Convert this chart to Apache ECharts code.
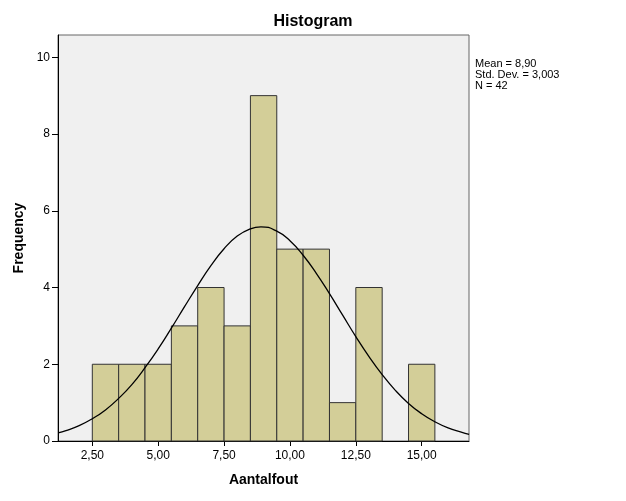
<!DOCTYPE html>
<html><head><meta charset="utf-8">
<script src="https://cdn.jsdelivr.net/npm/echarts@6/dist/echarts.min.js"></script>
<style>html,body{margin:0;padding:0;background:#fff}#c{width:626px;height:501px}</style>
</head><body><div id="c"></div>
<script>
// Histogram bins (start values, width 1) and counts
const binStarts = [2.5, 3.5, 4.5, 5.5, 6.5, 7.5, 8.5, 9.5, 10.5, 11.5, 12.5, 13.5, 14.5];
const counts    = [2, 2, 2, 3, 4, 3, 9, 5, 5, 1, 4, 0, 2];
const binWidth = 1;
// Normal curve
const curveX = [1.2, 1.5, 2.0, 2.5, 3.0, 3.5, 4.0, 4.5, 5.0, 5.5, 6.0, 6.5, 7.0, 7.5, 8.0, 8.5, 8.9, 9.5, 10.0, 10.5, 11.0, 11.5, 12.0, 12.5, 13.0, 13.5, 14.0, 14.5, 15.0, 15.5, 16.0, 16.5, 16.8];
const curveY = [0.21, 0.27, 0.40, 0.58, 0.81, 1.11, 1.47, 1.91, 2.40, 2.94, 3.50, 4.05, 4.57, 5.01, 5.34, 5.53, 5.58, 5.47, 5.22, 4.84, 4.37, 3.84, 3.28, 2.72, 2.20, 1.73, 1.32, 0.98, 0.71, 0.50, 0.34, 0.23, 0.17];
const xTicks = [2.5, 5, 7.5, 10, 12.5, 15];
const yTicks = [0, 2, 4, 6, 8, 10];
const statsLines = ['Mean = 8,90', 'Std. Dev. = 3,003', 'N = 42'];

const chart = echarts.init(document.getElementById('c'), null, {renderer: 'canvas'});
const font = 'Liberation Sans, Arial, sans-serif';
chart.setOption({
  animation: false,
  title: [
    {text: 'Histogram', left: 313, top: 14, padding: 0, textAlign: 'center',
     textStyle: {fontFamily: font, fontSize: 16, fontWeight: 'bold', color: '#000'}},
    {text: statsLines.join('\n'), left: 475, top: 58, padding: 0,
     textStyle: {fontFamily: font, fontSize: 11, fontWeight: 'normal', color: '#000', lineHeight: 11}}
  ],
  grid: {left: 58, right: 157, top: 35, bottom: 60, show: true,
         backgroundColor: '#f0f0f0', borderColor: '#666', borderWidth: 1},
  xAxis: {
    type: 'value', min: 1.198, max: 16.795,
    name: 'Aantalfout', nameLocation: 'middle', nameGap: 32,
    nameTextStyle: {fontFamily: font, fontSize: 14, fontWeight: 'bold', color: '#000'},
    axisLine: {lineStyle: {color: '#000', width: 1}},
    axisTick: {show: true, length: 5, customValues: xTicks, lineStyle: {color: '#000'}},
    axisLabel: {customValues: xTicks, fontFamily: font, fontSize: 12, color: '#000', margin: 9,
      formatter: v => v.toFixed(2).replace('.', ',')},
    splitLine: {show: false}
  },
  yAxis: {
    type: 'value', min: 0, max: 10.58,
    name: 'Frequency', nameLocation: 'middle', nameGap: 28, nameRotate: 90,
    nameTextStyle: {fontFamily: font, fontSize: 14, fontWeight: 'bold', color: '#000'},
    axisLine: {show: true, lineStyle: {color: '#000', width: 1}},
    axisTick: {show: true, length: 6, inside: false, customValues: yTicks, lineStyle: {color: '#000'}},
    axisLabel: {customValues: yTicks, fontFamily: font, fontSize: 12, color: '#000', margin: 8},
    splitLine: {show: false}
  },
  series: [
    {
      type: 'custom',
      data: binStarts.map((s, i) => [s, s + binWidth, counts[i]]),
      renderItem: function (params, api) {
        const h = api.value(2);
        if (!h) return null;
        const p0 = api.coord([api.value(0), 0]);
        const p1 = api.coord([api.value(1), h]);
        return {
          type: 'rect',
          shape: {x: p0[0], y: p1[1], width: p1[0] - p0[0], height: p0[1] - p1[1]},
          style: {fill: '#d3ce98', stroke: '#333', lineWidth: 1}
        };
      },
      z: 2
    },
    {
      type: 'line', smooth: true, symbol: 'none',
      data: curveX.map((x, i) => [x, curveY[i]]),
      lineStyle: {color: '#000', width: 1.3},
      z: 3
    }
  ]
});
</script></body></html>
